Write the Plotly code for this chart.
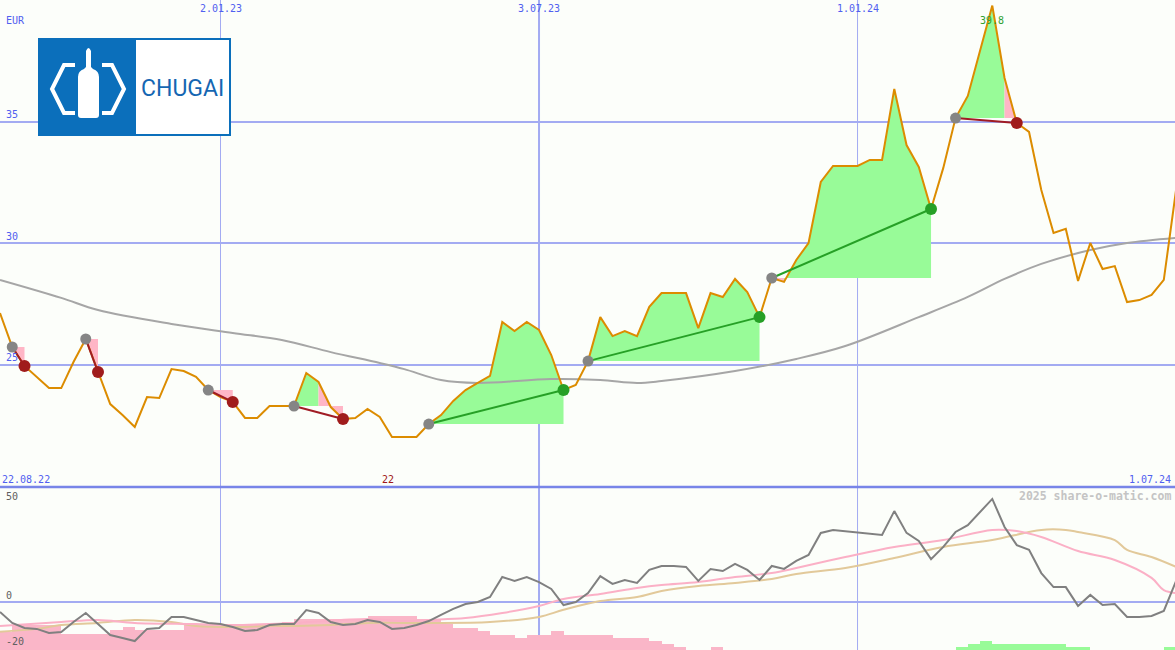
import plotly.graph_objects as go
import pandas as pd

W, H = 1175, 650
BG = "#fcfefa"
GRID = "#a3abf2"
BLUE_TXT = "#5060f0"

# ---------------- data ----------------
start = pd.Timestamp("2022-08-29")          # first weekly point
x_end = start + pd.Timedelta(days=671.4)      # right edge of chart

price = [27.12, 25.72, 24.94, 24.49, 24.03, 24.03, 25.10, 26.05, 24.69, 23.37,
         22.92, 22.43, 23.66, 23.62, 24.81, 24.73, 24.49, 23.95, 23.66, 23.46,
         22.80, 22.80, 23.29, 23.29, 23.29, 24.65, 24.28, 23.25, 22.76, 22.80,
         23.17, 22.84, 22.02, 22.02, 22.02, 22.55, 22.92, 23.50, 23.95, 24.24,
         24.53, 26.75, 26.38, 26.75, 26.42, 25.39, 23.95, 24.16, 25.14, 26.95,
         26.17, 26.38, 26.17, 27.37, 27.94, 27.94, 27.94, 26.50, 27.94, 27.78,
         28.52, 27.98, 26.95, 28.56, 28.40, 29.30, 30.00, 32.51, 33.17, 33.17,
         33.17, 33.42, 33.42, 36.34, 34.03, 33.13, 31.40, 33.09, 35.14, 36.05,
         37.94, 39.77, 36.79, 34.94, 34.57, 32.18, 30.41, 30.58, 28.44, 30.00,
         28.93, 29.05, 27.57, 27.65, 27.86, 28.48, 32.18]

ma_weeks = [0, 5, 8, 14, 19, 23, 27, 31, 33, 36, 39, 45, 49, 52, 54, 60, 65, 69,
            75, 79, 82, 85, 89, 92, 96]
ma_vals = [28.48, 27.74, 27.24, 26.67, 26.30, 26.01, 25.51, 25.06, 24.81, 24.36,
           24.24, 24.40, 24.36, 24.24, 24.32, 24.73, 25.23, 25.76, 26.95, 27.78,
           28.52, 29.14, 29.71, 30.00, 30.21]

# trades: entry week, exit week, week from which the area turns pink
entry_weeks = [1, 7, 17, 24, 35, 48, 63, 78]
exit_weeks = [2, 8, 19, 28, 46, 62, 76, 83]
pink_from = [2, 8, 19, 26, 46, 62, 76, 82]

# indicator panel
momentum = [-4.4, -9.2, -11.4, -11.8, -13.6, -13.2, -8.8, -4.9, -9.7, -14.5,
            -15.8, -17.1, -11.8, -11.4, -6.6, -6.6, -7.9, -9.2, -9.7, -11.0,
            -12.7, -12.3, -10.1, -9.7, -9.7, -3.6, -4.9, -8.8, -10.1, -9.7,
            -7.9, -8.8, -11.8, -11.4, -10.1, -8.4, -5.7, -3.1, -1.0, -0.1,
            2.1, 10.8, 9.1, 10.8, 8.6, 5.6, -1.4, -0.1, 3.8, 11.2,
            7.8, 9.5, 8.2, 13.9, 15.6, 15.6, 15.2, 9.1, 14.3, 13.4,
            16.5, 13.9, 9.5, 15.6, 14.3, 17.8, 20.4, 30.0, 31.3, 30.8,
            30.0, 29.5, 29.1, 39.5, 30.0, 26.5, 18.6, 23.9, 30.4, 33.4,
            39.1, 44.8, 32.6, 24.7, 22.6, 12.5, 6.4, 6.4, -1.8, 3.0,
            -1.4, -1.0, -6.6, -6.6, -6.2, -4.0, 9.0]

pink_weeks = [0, 5, 8, 11, 16, 19, 24, 30, 33, 35, 38, 41, 44, 46, 49, 52, 54, 57,
              60, 63, 65, 69, 73, 77, 81, 83, 85, 88, 91, 94, 95, 96]
pink_vals = [-10.5, -8.8, -7.9, -9.2, -9.7, -10.1, -9.2, -7.5, -8.4, -7.9,
             -7.1, -4.9, -1.8, 1.2, 3.4, 6.0, 7.3, 8.6, 10.8, 12.5,
             14.7, 19.5, 23.9, 26.9, 31.3, 30.8, 28.2, 22.1, 18.2, 10.4, 5.1, 3.8]

tan_weeks = [0, 3, 5, 8, 11, 14, 16, 19, 22, 24, 27, 30, 33, 35, 40, 44, 46, 49,
             52, 54, 57, 60, 63, 65, 69, 73, 77, 81, 85, 87, 88, 91, 92, 94, 96]
tan_vals = [-13.0, -11.8, -10.1, -9.2, -7.9, -8.8, -10.5, -11.0, -10.5, -10.5,
            -10.1, -9.2, -9.2, -9.2, -8.8, -6.6, -3.5, 0.3, 2.1, 4.7,
            6.9, 8.2, 9.9, 12.1, 14.7, 19.1, 23.9, 26.9, 31.3, 31.3,
            30.4, 26.9, 22.6, 19.5, 15.2]

N = None
pink_bars = ([-13.2] + [-10.1] * 4 + [-14.0] * 4 + [-12.3, -11.0] + [-12.3] * 4 +
             [-9.7] * 8 + [-8.8] + [-7.5] * 6 + [-6.2] * 4 + [-7.5] * 2 + [-9.7] +
             [-11.4] * 2 + [-12.7] + [-14.5] * 2 + [-15.8] + [-14.5] * 2 + [-12.7] +
             [-14.5] * 4 + [-15.8] * 3 + [-17.1, -18.4, -19.7, N, N, -19.7] + [N] * 37)
green_bars = ([N] * 78 + [-19.7, -18.4, -17.1] + [-18.4] * 6 + [-19.7] * 2 +
              [N] * 6 + [-19.7])

top_tick_dates = ["2023-01-02", "2023-07-03", "2024-01-01"]
top_tick_text = ["2.01.23", "3.07.23", "1.01.24"]
y_ticks = [25, 30, 35]
ind_ticks = [50, 0, -20]

# ---------------- helpers ----------------
def wk(k):
    return (start + pd.Timedelta(days=7 * k)).strftime("%Y-%m-%d %H:%M")

weeks = [wk(k) for k in range(len(price))]
BAR_BASE = -25

fig = go.Figure()

# indicator bars
bar_x = [wk(k + 0.5) for k in range(len(pink_bars))]
fig.add_trace(go.Bar(x=bar_x, y=[None if v is None else v - BAR_BASE for v in pink_bars],
                     base=BAR_BASE, width=7 * 86400000, marker=dict(color="#fab6c8", line_width=0),
                     xaxis="x2", yaxis="y2", hoverinfo="skip"))
fig.add_trace(go.Bar(x=bar_x, y=[None if v is None else v - BAR_BASE for v in green_bars],
                     base=BAR_BASE, width=7 * 86400000, marker=dict(color="#98fb98", line_width=0),
                     xaxis="x2", yaxis="y2", hoverinfo="skip"))
# indicator lines
fig.add_trace(go.Scatter(x=[wk(k) for k in tan_weeks], y=tan_vals, mode="lines",
                         line=dict(color="#e2c99a", width=2, shape="spline"), xaxis="x2", yaxis="y2"))
fig.add_trace(go.Scatter(x=[wk(k) for k in pink_weeks], y=pink_vals, mode="lines",
                         line=dict(color="#fbb0c6", width=2, shape="spline"), xaxis="x2", yaxis="y2"))
fig.add_trace(go.Scatter(x=weeks, y=momentum, mode="lines",
                         line=dict(color="#808080", width=2), xaxis="x2", yaxis="y2"))

# trade areas
gx, gy, px_, py_ = [], [], [], []
for e, x_, pf in zip(entry_weeks, exit_weeks, pink_from):
    lvl = price[e]
    cols = [(i >= pf or price[i + 1] < lvl) for i in range(e, x_)]
    i = e
    while i < x_:
        c = cols[i - e]
        j = i
        while j < x_ and cols[j - e] == c:
            j += 1
        xs = [weeks[i]] + weeks[i:j + 1] + [weeks[j]] + [None]
        ys = [lvl] + price[i:j + 1] + [lvl] + [None]
        if c:
            px_ += xs; py_ += ys
        else:
            gx += xs; gy += ys
        i = j
fig.add_trace(go.Scatter(x=gx, y=gy, mode="lines", fill="toself", fillcolor="#98fb98",
                         line=dict(width=0, color="#98fb98"), hoverinfo="skip"))
fig.add_trace(go.Scatter(x=px_, y=py_, mode="lines", fill="toself", fillcolor="#ffb6c6",
                         line=dict(width=0, color="#ffb6c6"), hoverinfo="skip"))

# moving average and price
fig.add_trace(go.Scatter(x=[wk(k) for k in ma_weeks], y=ma_vals, mode="lines",
                         line=dict(color="#a6a6a6", width=2, shape="spline")))
fig.add_trace(go.Scatter(x=weeks, y=price, mode="lines", line=dict(color="#dc8c00", width=2)))

# trade lines and markers
wl_x, wl_y, ll_x, ll_y, ex_col = [], [], [], [], []
for e, x_ in zip(entry_weeks, exit_weeks):
    win = price[x_] > price[e]
    if win:
        wl_x += [weeks[e], weeks[x_], None]; wl_y += [price[e], price[x_], None]
    else:
        ll_x += [weeks[e], weeks[x_], None]; ll_y += [price[e], price[x_], None]
    ex_col.append("#26a026" if win else "#a01c1c")
fig.add_trace(go.Scatter(x=wl_x, y=wl_y, mode="lines", line=dict(color="#26a026", width=2)))
fig.add_trace(go.Scatter(x=ll_x, y=ll_y, mode="lines", line=dict(color="#a01c24", width=2)))
fig.add_trace(go.Scatter(x=[weeks[k] for k in entry_weeks], y=[price[k] for k in entry_weeks],
                         mode="markers", marker=dict(color="#858585", size=11)))
fig.add_trace(go.Scatter(x=[weeks[k] for k in exit_weeks], y=[price[k] for k in exit_weeks],
                         mode="markers", marker=dict(color=ex_col, size=12)))

# ---------------- layout ----------------
fig.update_layout(
    width=W, height=H, margin=dict(l=0, r=0, t=0, b=0),
    paper_bgcolor=BG, plot_bgcolor=BG, showlegend=False,
    bargap=0, barmode="overlay", hovermode=False,
    xaxis=dict(domain=[0, 1], range=[start, x_end], type="date", showgrid=False,
               showticklabels=False, zeroline=False, anchor="y"),
    yaxis=dict(domain=[1 - 486 / H, 1], range=[20, 40], tickvals=y_ticks,
               showticklabels=False, showgrid=True, gridcolor=GRID, gridwidth=2,
               zeroline=False, anchor="x"),
    xaxis2=dict(domain=[0, 1], matches="x", type="date", showgrid=False,
                showticklabels=False, zeroline=False, anchor="y2"),
    yaxis2=dict(domain=[0, 1 - 487 / H], range=[-21, 50], showgrid=False,
                showticklabels=False, zeroline=True, zerolinecolor=GRID,
                zerolinewidth=2, anchor="x2"),
)

shapes = []
for d, w in zip(top_tick_dates, [1, 2, 1]):
    shapes.append(dict(type="line", xref="x", yref="paper", x0=d, x1=d, y0=0, y1=1,
                       line=dict(color=GRID, width=w), layer="below"))
shapes.append(dict(type="line", xref="paper", yref="paper", x0=0, x1=1,
                   y0=1 - 487 / H, y1=1 - 487 / H, line=dict(color="#7885e8", width=2.5),
                   layer="below"))

# logo
def sp(spec):
    out = []
    for item in spec:
        s = item[0]
        for (x, y) in item[1:]:
            s += f" {x / W:.5f},{1 - y / H:.5f}"
        out.append(s)
    return " ".join(out)

def prect(x0, y0, x1, y1, color):
    return dict(type="rect", xref="paper", yref="paper", x0=x0 / W, x1=x1 / W,
                y0=1 - y1 / H, y1=1 - y0 / H, fillcolor=color, line=dict(width=0),
                layer="above")

shapes.append(prect(38, 38, 231, 136, "#0b6fbb"))
shapes.append(prect(136, 40, 229, 134, "#ffffff"))
shapes.append(dict(type="path", xref="paper", yref="paper", layer="above",
                   path=sp([("M", (75, 65)), ("L", (64, 65)), ("L", (52, 89)), ("L", (64, 113)), ("L", (75, 113))]),
                   line=dict(color="white", width=4)))
shapes.append(dict(type="path", xref="paper", yref="paper", layer="above",
                   path=sp([("M", (102, 65)), ("L", (112, 65)), ("L", (124, 89)), ("L", (112, 113)), ("L", (102, 113))]),
                   line=dict(color="white", width=4)))
shapes.append(dict(type="path", xref="paper", yref="paper", layer="above",
                   path=sp([("M", (78, 115)), ("L", (78, 77)), ("Q", (78, 71), (84, 69)),
                            ("L", (86, 67)), ("L", (86, 51)), ("Q", (88.5, 45), (91, 51)),
                            ("L", (91, 67)), ("L", (93, 69)), ("Q", (99, 71), (99, 77)),
                            ("L", (99, 115)), ("Q", (99, 118), (96, 118)), ("L", (81, 118)),
                            ("Q", (78, 118), (78, 115)), ("Z",)]),
                   fillcolor="white", line=dict(width=0)))
fig.update_layout(shapes=shapes)

MONO = "DejaVu Sans Mono"
ann = []
for d, t in zip(top_tick_dates, top_tick_text):
    ann.append(dict(x=d, xref="x", y=1 - 8 / H, yref="paper", text=t, showarrow=False,
                    xanchor="center", yanchor="middle", font=dict(family=MONO, size=10, color=BLUE_TXT)))
for v in y_ticks:
    ann.append(dict(x=4 / W, xref="paper", y=v, yref="y", yshift=7, text=str(v), showarrow=False,
                    xanchor="left", yanchor="middle", font=dict(family=MONO, size=10, color=BLUE_TXT)))
ann.append(dict(x=4 / W, xref="paper", y=1 - 20 / H, yref="paper", text="EUR", showarrow=False,
                xanchor="left", yanchor="middle", font=dict(family=MONO, size=10, color=BLUE_TXT)))
ann.append(dict(x=0, xref="paper", y=1 - 479 / H, yref="paper", text="22.08.22", showarrow=False,
                xanchor="left", yanchor="middle", font=dict(family=MONO, size=10, color=BLUE_TXT)))
ann.append(dict(x=1173 / W, xref="paper", y=1 - 479 / H, yref="paper", text="1.07.24", showarrow=False,
                xanchor="right", yanchor="middle", font=dict(family=MONO, size=10, color=BLUE_TXT)))
kmin = price.index(min(price))
kmax = price.index(max(price))
ann.append(dict(x=weeks[kmin], xref="x", xshift=-4, y=1 - 479 / H, yref="paper",
                text=f"{min(price):.0f}", showarrow=False, xanchor="center", yanchor="middle",
                font=dict(family=MONO, size=10, color="#a01818")))
ann.append(dict(x=weeks[kmax], xref="x", y=1 - 20 / H, yref="paper",
                text=f"{max(price):.1f}", showarrow=False, xanchor="center", yanchor="middle",
                font=dict(family=MONO, size=10, color="#30a030")))
for v, sh in zip(ind_ticks, [-9, 6, 6]):
    ann.append(dict(x=4 / W, xref="paper", y=v, yref="y2", yshift=sh, text=str(v), showarrow=False,
                    xanchor="left", yanchor="middle", font=dict(family=MONO, size=10, color="#606060")))
ann.append(dict(x=1173 / W, xref="paper", y=1 - 496 / H, yref="paper", text="<b>2025 share-o-matic.com</b>",
                showarrow=False, xanchor="right", yanchor="middle",
                font=dict(family=MONO, size=11.5, color="#c4c4c4")))
ann.append(dict(x=182 / W, xref="paper", y=1 - 88 / H, yref="paper", text="CHUGAI", showarrow=False,
                xanchor="center", yanchor="middle", font=dict(family="Roboto", size=23, color="#1566b2")))
fig.update_layout(annotations=ann)

fig.write_html("out.html", config={"displayModeBar": False},
               post_script="document.body.style.margin='0';document.body.style.padding='0';")
